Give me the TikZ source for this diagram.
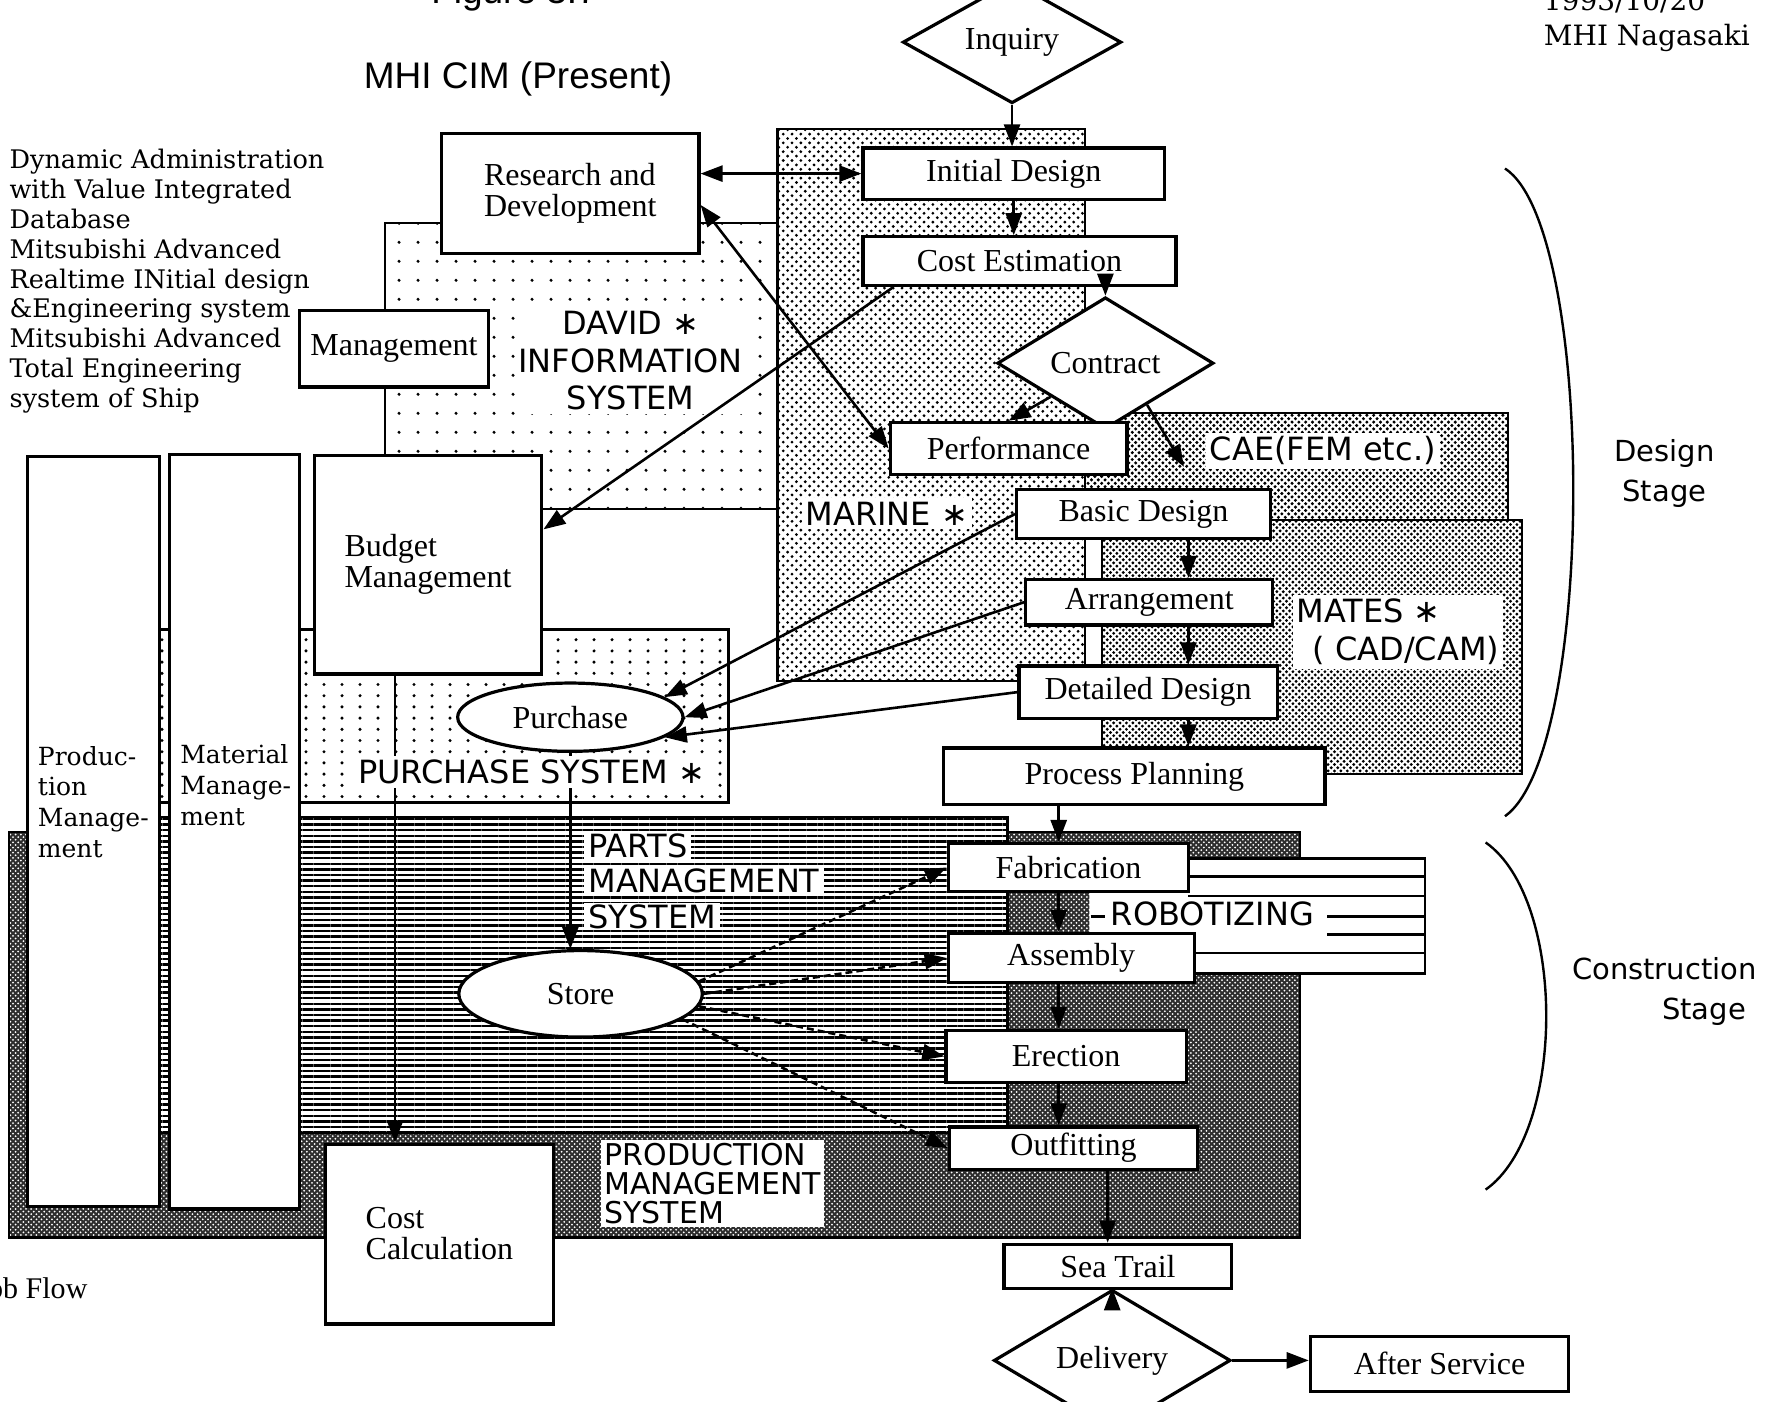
\documentclass[tikz,border=0pt]{standalone}
\usepackage{fontspec}
\setmainfont{Liberation Serif}
\newfontfamily\sysfamily{DejaVu Sans}
\newfontfamily\slabfamily{DejaVu Serif}
\newfontfamily\helvfamily{Liberation Sans}
\usetikzlibrary{arrows.meta,shapes.geometric,patterns,calc}

\pgfdeclarepatternformonly{loosedots}{\pgfqpoint{-1pt}{-1pt}}{\pgfqpoint{1pt}{1pt}}{\pgfqpoint{9.5pt}{9.5pt}}%
  {\pgfpathcircle{\pgfqpoint{0pt}{0pt}}{0.85pt}\pgfusepath{fill}}
\pgfdeclarepatternformonly{purchdots}{\pgfqpoint{-1pt}{-1pt}}{\pgfqpoint{1pt}{1pt}}{\pgfqpoint{9pt}{5.6pt}}%
  {\pgfpathcircle{\pgfqpoint{0pt}{0pt}}{0.85pt}\pgfusepath{fill}}
\pgfdeclarepatternformonly{marinedots}{\pgfqpoint{-1pt}{-1pt}}{\pgfqpoint{3.5pt}{3.5pt}}{\pgfqpoint{4.4pt}{4.4pt}}%
  {\pgfpathcircle{\pgfqpoint{0pt}{0pt}}{0.78pt}\pgfpathcircle{\pgfqpoint{2.2pt}{2.2pt}}{0.78pt}\pgfusepath{fill}}
\pgfdeclarepatternformonly{caedots}{\pgfqpoint{-0.9pt}{-0.9pt}}{\pgfqpoint{2.6pt}{2.6pt}}{\pgfqpoint{3.4pt}{3.4pt}}%
  {\pgfpathcircle{\pgfqpoint{0pt}{0pt}}{0.85pt}\pgfpathcircle{\pgfqpoint{1.7pt}{1.7pt}}{0.85pt}\pgfusepath{fill}}
\pgfdeclarepatternformonly{matesdots}{\pgfqpoint{-0.9pt}{-0.9pt}}{\pgfqpoint{2.5pt}{2.5pt}}{\pgfqpoint{3.2pt}{3.2pt}}%
  {\pgfpathcircle{\pgfqpoint{0pt}{0pt}}{0.8pt}\pgfpathcircle{\pgfqpoint{1.6pt}{1.6pt}}{0.8pt}\pgfusepath{fill}}
\pgfdeclarepatternformonly{proddots}{\pgfqpoint{-0.6pt}{-0.6pt}}{\pgfqpoint{1.9pt}{1.9pt}}{\pgfqpoint{2.6pt}{2.6pt}}%
  {\pgfpathcircle{\pgfqpoint{0pt}{0pt}}{0.5pt}\pgfpathcircle{\pgfqpoint{1.3pt}{1.3pt}}{0.5pt}\pgfusepath{fill}}
\pgfdeclarepatternformonly{hlines}{\pgfqpoint{0pt}{-0.7pt}}{\pgfqpoint{2.8pt}{0.7pt}}{\pgfqpoint{2.8pt}{2.8pt}}%
  {\pgfsetlinewidth{1.2pt}\pgfpathmoveto{\pgfqpoint{0pt}{0pt}}\pgfpathlineto{\pgfqpoint{2.8pt}{0pt}}\pgfusepath{stroke}}

\tikzset{
  box/.style={draw,line width=1.6pt,fill=white,inner sep=1pt,font=\fontsize{16}{15.5}\selectfont},
  tallbox/.style={draw,line width=1.6pt,fill=white,inner sep=0pt},
  decision/.style={draw,diamond,line width=1.6pt,fill=white,inner sep=0pt,font=\fontsize{16}{17}\selectfont},
  pool/.style={draw,ellipse,line width=1.6pt,fill=white,inner sep=0pt,font=\fontsize{16}{17}\selectfont},
  sysarea/.style={draw,line width=1.1pt,preaction={fill=white},pattern=#1},
  prodarea/.style={draw,line width=1.1pt,preaction={fill=black!82},pattern=proddots,pattern color=white},
  syslabel/.style={fill=white,inner sep=2pt,align=center,font=\sysfamily\fontsize{16}{18.8}\selectfont},
  rowlabel/.style={syslabel,inner ysep=0.6pt,anchor=west},
  slabtext/.style={align=left,inner sep=0pt,font=\slabfamily\fontsize{12.5}{15.4}\selectfont},
  flow/.style={line width=1.3pt,-{Triangle[length=11pt,width=8pt]}},
  twoway/.style={line width=1.3pt,{Triangle[length=11pt,width=8pt]}-{Triangle[length=11pt,width=8pt]}},
  feed/.style={flow,dash pattern=on 3.5pt off 2pt}
}

\begin{document}
\begin{tikzpicture}[x=0.02cm,y=-0.02cm]
\useasboundingbox (0,0) rectangle (1568,1231);
\clip (0,0) rectangle (1568,1231);

% system areas
\draw[prodarea] (8,731) rectangle (1142,1087);
\draw[sysarea=hlines] (140,718) rectangle (885,995);
\draw[sysarea=purchdots] (140,553) rectangle (640,705);
\draw[sysarea=loosedots] (338,196) rectangle (683,447);
\draw[sysarea=marinedots] (683,113) rectangle (953,598);
\draw[sysarea=caedots] (953,363) rectangle (1325,470);
\draw[sysarea=matesdots] (968,457) rectangle (1337,680);

% robotizing
\fill[white] (1044,754) -- (1252,754) -- (1252,855) -- (1049,855) -- (1049,820) -- (957,820) -- (957,783) -- (1044,783) -- cycle;
\draw[line width=1.2pt] (1044,754) -- (1252,754) -- (1252,855) -- (1049,855);
\draw[line width=1.2pt] (1044,770) -- (1252,770);
\draw[line width=1.2pt] (1044,787) -- (1252,787);
\draw[line width=1.2pt] (1166,805) -- (1252,805);
\draw[line width=1.2pt] (1166,821) -- (1252,821);
\draw[line width=1.2pt] (1049,837) -- (1252,837);
\draw[line width=1.2pt] (958,805) -- (971,805);
\node[inner sep=0pt,font=\sysfamily\fontsize{16}{18}\selectfont] (robolab) at (1065,803) {ROBOTIZING};

% texts outside
\node[font=\helvfamily\fontsize{18.5}{20}\selectfont,anchor=base] (figno) at (452,3) {Figure 3.7};
\node[font=\helvfamily\fontsize{18.5}{20}\selectfont] (title) at (455,69) {MHI CIM (Present)};
\node[font=\slabfamily\fontsize{14}{16}\selectfont,anchor=base west] (datelab) at (1350,9) {1993/10/20};
\node[font=\slabfamily\fontsize{14}{16}\selectfont,anchor=base west] (sitelab) at (1350,40) {MHI Nagasaki};
\node[slabtext,font=\slabfamily\fontsize{12.8}{14.9}\selectfont,anchor=north west] (acronyms) at (8,131)
  {Dynamic Administration\\with Value Integrated\\Database\\Mitsubishi Advanced\\Realtime INitial design\\\&Engineering system\\Mitsubishi Advanced\\Total Engineering\\system of Ship};
\node[font=\fontsize{15}{16}\selectfont,anchor=base east] (jobflow) at (83,1141) {Job Flow};

% boxes
\node[tallbox,minimum width=2.32cm,minimum height=13.18cm] (prodmgmt) at (82,730.5) {};
\node[tallbox,minimum width=2.28cm,minimum height=13.26cm] (matmgmt) at (206,730.5) {};
\node[slabtext,anchor=north west] (prodtext) at (33,655) {Produc-\\tion\\Manage-\\ment};
\node[slabtext,anchor=north west] (mattext) at (158,654) {Material\\Manage-\\ment};

\node[decision,minimum width=3.84cm,minimum height=1.16cm] (inquiry) at (889,37) {Inquiry};
\node[box,minimum width=4.52cm,minimum height=2.12cm,align=left] (rnd) at (501,170) {Research and\\Development};
\node[box,minimum width=5.30cm,minimum height=0.90cm] (initd) at (890.5,152.5) {Initial Design};
\node[box,minimum width=5.50cm,minimum height=0.86cm] (coste) at (895.5,229.5) {Cost Estimation};
\node[decision,minimum width=3.80cm,minimum height=1.36cm] (contract) at (971,319) {Contract};
\node[box,minimum width=3.32cm,minimum height=1.34cm] (mgmt) at (346,306.5) {Management};
\node[box,minimum width=4.16cm,minimum height=0.92cm] (perf) at (886,394) {Performance};
\node[box,minimum width=4.46cm,minimum height=0.86cm] (basic) at (1004.5,451.5) {Basic Design};
\node[box,minimum width=4.34cm,minimum height=0.80cm] (arrange) at (1009.5,529) {Arrangement};
\node[box,minimum width=4.54cm,minimum height=0.92cm] (detail) at (1008.5,608) {Detailed Design};
\node[box,minimum width=6.70cm,minimum height=1.00cm] (procplan) at (996.5,682) {Process Planning};
\node[box,minimum width=4.00cm,minimum height=3.84cm,align=left] (budget) at (376,496) {Budget\\Management};
\node[pool,minimum width=3.96cm,minimum height=1.20cm] (purchase) at (501,630) {Purchase};
\node[pool,minimum width=4.28cm,minimum height=1.52cm] (stock) at (510,873) {Store};
\node[box,minimum width=4.22cm,minimum height=0.84cm] (fab) at (938.5,762) {Fabrication};
\node[box,minimum width=4.32cm,minimum height=0.86cm] (assy) at (941,841.5) {Assembly};
\node[box,minimum width=4.22cm,minimum height=0.92cm] (erect) at (936.5,928) {Erection};
\node[box,minimum width=4.36cm,minimum height=0.74cm] (outfit) at (943,1008.5) {Outfitting};
\node[box,minimum width=4.00cm,minimum height=3.16cm,align=left] (costcalc) at (386,1084) {Cost\\Calculation};
\node[box,minimum width=4.00cm,minimum height=0.78cm] (seatrail) at (982,1112.5) {Sea Trail};
\node[decision,minimum width=4.16cm,minimum height=1.40cm] (delivery) at (977,1195) {Delivery};
\node[box,minimum width=4.54cm,minimum height=0.96cm] (aftersv) at (1264.5,1198) {After Service};

\coordinate (specx) at (1044,0);
\coordinate (buildx) at (930,0);
\coordinate (seax) at (973,0);
\coordinate (cashx) at (347,0);
\coordinate (caetip) at (1040,410);

% job flow
\draw[flow] (inquiry.south) -- (inquiry.south |- initd.north);
\draw[flow] (initd.south) -- (initd.south |- coste.north);
\draw[flow] (contract.north |- coste.south) -- (contract.north);
\draw[flow] (contract.south west) -- (perf.north);
\draw[flow] (contract.-45) -- (caetip);
\draw[twoway] (rnd.east |- initd.west) -- (initd.west);
\draw[twoway] (rnd.-5) -- (perf.west);
\draw[flow] (basic.west) -- (purchase.12);
\draw[flow] (arrange.west) -- (purchase.0);
\draw[flow] (detail.west) -- (purchase.-12);
\draw[flow] (basic.south -| specx) -- (arrange.north -| specx);
\draw[flow] (arrange.south -| specx) -- (detail.north -| specx);
\draw[flow] (detail.south -| specx) -- (procplan.north -| specx);
\draw[flow] (procplan.south -| buildx) -- (fab.north -| buildx);
\draw[flow] (fab.south -| buildx) -- (assy.north -| buildx);
\draw[flow] (assy.south -| buildx) -- (erect.north -| buildx);
\draw[flow] (erect.south -| buildx) -- (outfit.north -| buildx);
\draw[flow] (outfit.south -| seax) -- (seatrail.north -| seax);
\draw[flow] (seatrail.south -| delivery.north) -- (delivery.north);
\draw[flow] (delivery.east) -- (delivery.east -| aftersv.west);
\draw[flow] (budget.south -| cashx) -- (costcalc.north -| cashx);
\draw[flow] (purchase.south) -- (purchase.south |- stock.north);
\draw[feed] (stock.6) -- (fab.west);
\draw[feed] (stock.0) -- (assy.west);
\draw[feed] (stock.-6) -- (erect.west);
\draw[feed] (stock.-14) -- (outfit.west);

% system names
\node[syslabel] (davidlab) at (554,317) {DAVID ∗\\INFORMATION\\SYSTEM};
\node[syslabel] (marinelab) at (779,451) {MARINE ∗};
\node[syslabel] (purchlab) at (467,678) {PURCHASE SYSTEM ∗};
\node[syslabel] (caelab) at (1162,396) {CAE(FEM etc.)};
\node[syslabel,align=left] (mateslab) at (1228,555) {MATES ∗\\\hspace*{8pt}( CAD/CAM)};
\node[rowlabel] (partslab) at (513,743) {PARTS};
\node[rowlabel] (partslab2) at (513,774) {MANAGEMENT};
\node[rowlabel] (partslab3) at (513,805) {SYSTEM};
\node[syslabel,align=left,inner sep=1.5pt,anchor=north west,font=\sysfamily\fontsize{15}{14.5}\selectfont] (prodlab) at (528,1001) {PRODUCTION\\MANAGEMENT\\SYSTEM};

\draw[flow] ($(coste.south west)!0.1!(coste.south east)$) -- (budget.17);

% stages
\draw[line width=1.2pt] (1322,148) .. controls (1402,200) and (1402,660) .. (1322,717);
\draw[line width=1.2pt] (1305,740) .. controls (1376,790) and (1376,995) .. (1305,1045);
\node[font=\sysfamily\fontsize{14.5}{20}\selectfont,align=center] (designlab) at (1462,416) {Design\\Stage};
\node[font=\sysfamily\fontsize{14.5}{20}\selectfont,align=left] (constrlab) at (1462,871) {Construction\\\hspace*{45pt}Stage};
\end{tikzpicture}
\end{document}
